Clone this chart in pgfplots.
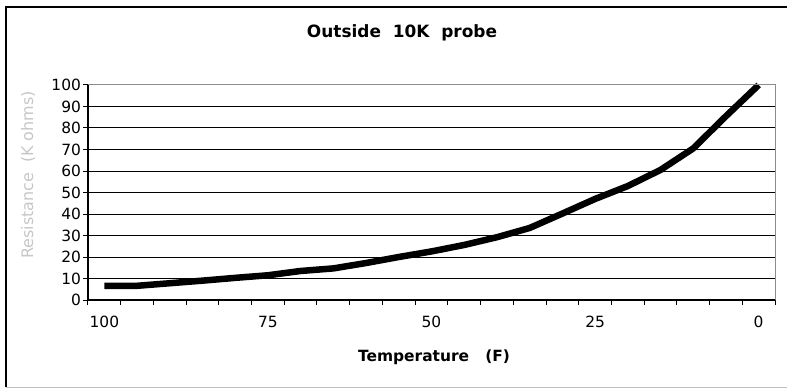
\documentclass[border=0pt]{standalone}
\usepackage{pgfplots}
\pgfplotsset{compat=1.18}
\usepackage{fontspec}
\setmainfont{DejaVu Sans}

% Resistance of the outside 10K probe against temperature
\pgfplotstableread{
temp  res
100   6.6
95    6.6
90    7.8
85    9.0
80    10.3
75    11.5
70    13.5
65    14.7
60    17.2
55    20.0
50    22.6
45    25.6
40    29.2
35    33.5
30    40.2
25    47.0
20    53.0
15    60.5
10    70.5
5     85.5
0     100
}\probedata

\begin{document}
\begin{tikzpicture}[x=1bp,y=1bp]
\useasboundingbox (0,0) rectangle (787,388);
% chart frame
\draw[black, line width=1.5bp] (6,0.6) -- (6,381) -- (787,381);
\draw[black!25, line width=1.2bp] (6,0.6) -- (787,0.6);

\begin{axis}[
  at={(88bp,88bp)}, anchor=south west,
  width=687bp, height=215bp, scale only axis,
  x dir=reverse,
  xmin=-2.5, xmax=102.5,
  ymin=0, ymax=100,
  axis lines*=left,
  axis line style={black, line width=1.2bp, -},
  tick align=outside,
  major tick length=5bp,
  tick style={black, line width=1bp},
  xtick={-2.5,2.5,...,102.5},
  xticklabels={},
  extra x ticks={0,25,50,75,100},
  extra x tick style={
    major tick length=0pt,
    xticklabel style={yshift=-13bp},
  },
  ytick={0,10,...,100},
  ymajorgrids,
  major grid style={black, line width=1bp},
  /pgf/number format/assume math mode=true,
  ticklabel style={font=\fontsize{15.5}{15.5}\selectfont},
  yticklabel style={xshift=1.5bp},
  clip=false,
]
\addplot[black, line width=6.5bp, line join=round, line cap=butt]
  table[x=temp, y=res] {\probedata};
% grey plot-area border on the top and right
\draw[black!45, line width=1bp] (rel axis cs:0,1) -- (rel axis cs:1,1) -- (rel axis cs:1,0);
\end{axis}

\node[font=\bfseries\fontsize{17}{17}\selectfont] at (402,355) {Outside\ \ 10K\ \ probe};
\node[font=\bfseries\fontsize{15.5}{15.5}\selectfont] at (434,31) {Temperature\ \ \ (F)};
\node[rotate=90, text=black!22, font=\fontsize{16}{16}\selectfont] at (28,213) {Resistance\ \ (K ohms)};
\end{tikzpicture}
\end{document}
